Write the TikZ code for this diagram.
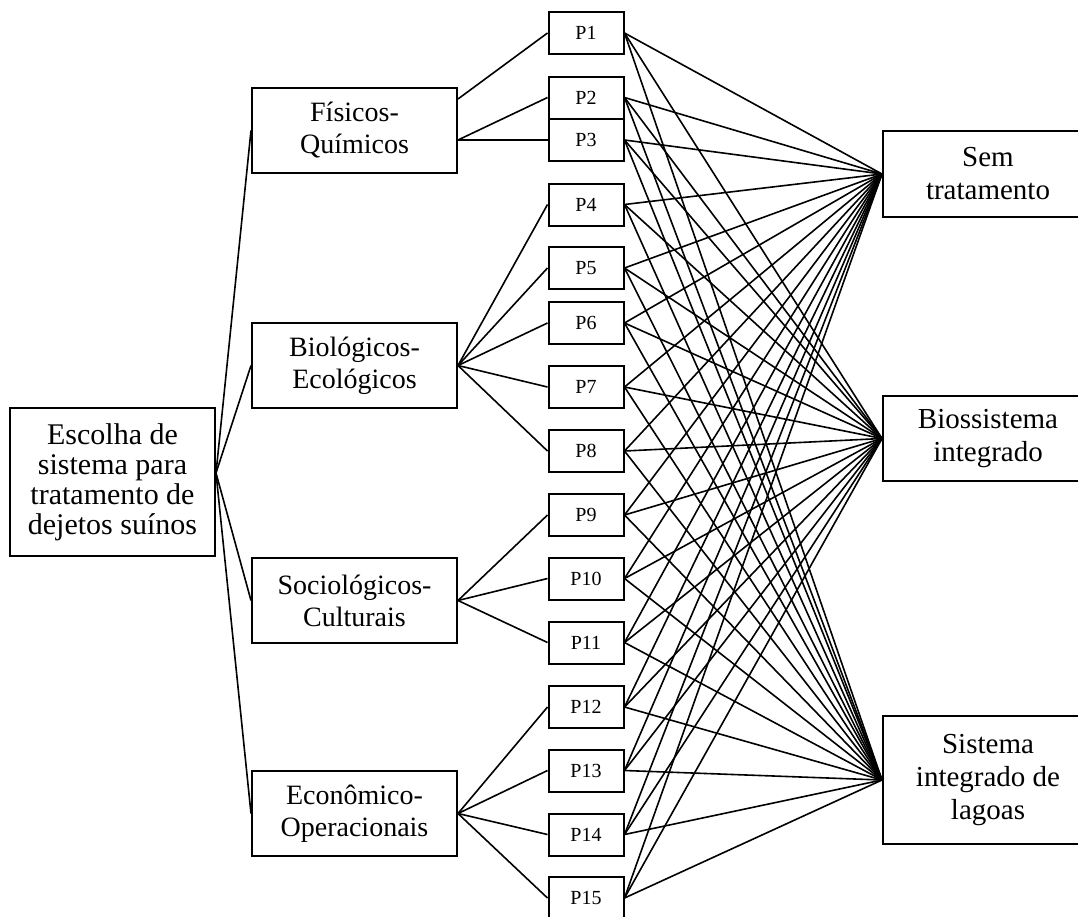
\documentclass[tikz,border=0pt]{standalone}
\usepackage{fontspec}
\setmainfont{Liberation Serif}
\begin{document}
\begin{tikzpicture}[x=1pt,y=-1pt,
  box/.style={draw,line width=2pt,inner sep=0pt,align=center},
  rootbox/.style={box,minimum width=205pt,minimum height=148pt,font=\fontsize{30}{30}\selectfont},
  critbox/.style={box,minimum width=205pt,minimum height=85pt,font=\fontsize{28}{32}\selectfont},
  pbox/.style={box,minimum width=75pt,minimum height=42pt,font=\fontsize{20}{22}\selectfont},
  altbox/.style={box,minimum width=210pt,font=\fontsize{29}{33}\selectfont},
  conn/.style={line width=1.6pt}]
\useasboundingbox (0,0) rectangle (1078,916);
\clip (0,0) rectangle (1078,916);

% root
\node[rootbox] (root) at (112.5,482) {Escolha de\\sistema para\\tratamento de\\dejetos suínos};

% criteria
\node[critbox] (crFis) at (354.5,130.5) {Físicos-\\Químicos};
\node[critbox] (crBio) at (354.5,365.5) {Biológicos-\\Ecológicos};
\node[critbox] (crSoc) at (354.5,600.5) {Sociológicos-\\Culturais};
\node[critbox] (crEco) at (354.5,813.5) {Econômico-\\Operacionais};

% parameters
\foreach \i/\y in {1/33,2/97.5,3/140,4/204.5,5/268,6/323,7/387,8/451,9/515,10/578.5,11/642.5,12/707,13/770.5,14/834.5,15/898}
  \node[pbox] (p\i) at (586,\y) {P\i};

% alternatives
\node[altbox,minimum height=86pt] (alSem) at (988,174) {Sem\\tratamento};
\node[altbox,minimum height=85pt] (alBio) at (988,438.5) {Biossistema\\integrado};
\node[altbox,minimum height=128pt] (alSis) at (988,780) {Sistema\\integrado de\\lagoas};

% connection points
\coordinate (rootpt) at ([yshift=9pt]root.east);
\coordinate (fisA) at ([yshift=31.5pt]crFis.east);
\coordinate (fisB) at ([yshift=-9.5pt]crFis.east);

% root to criteria
\foreach \c in {crFis,crBio,crSoc,crEco}
  \draw[conn] (rootpt) -- (\c.west);

% criteria to parameters
\draw[conn] (fisA) -- (p1.west);
\draw[conn] (fisB) -- (p2.west);
\draw[conn] (fisB) -- (p3.west);
\foreach \i in {4,...,8} \draw[conn] (crBio.east) -- (p\i.west);
\foreach \i in {9,10,11} \draw[conn] (crSoc.east) -- (p\i.west);
\foreach \i in {12,...,15} \draw[conn] (crEco.east) -- (p\i.west);

% parameters to alternatives
\foreach \i in {1,...,15}
  \foreach \a in {alSem,alBio,alSis}
    \draw[conn] (p\i.east) -- (\a.west);
\end{tikzpicture}
\end{document}
